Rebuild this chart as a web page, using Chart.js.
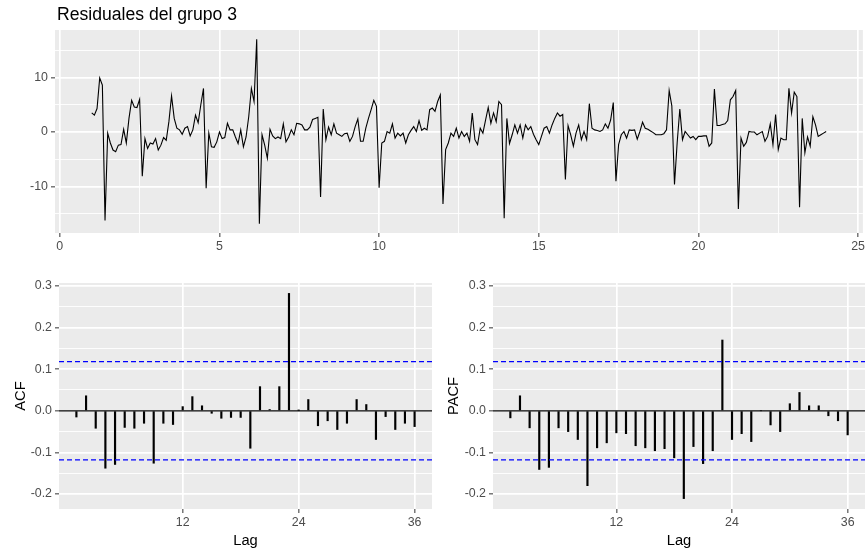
<!DOCTYPE html>
<html>
<head>
<meta charset="utf-8">
<script src="https://cdn.jsdelivr.net/npm/chart.js@4.4.0/dist/chart.umd.min.js"></script>
<style>
  body { margin: 0; background: #fff; }
  #lienzo { position: relative; width: 867px; height: 554px; }
  canvas { position: absolute; }
</style>
</head>
<body>
<div id="lienzo">
  <canvas id="serie" width="867" height="255" style="left:0px;top:0px"></canvas>
  <canvas id="acf" width="440" height="294" style="left:0px;top:260px"></canvas>
  <canvas id="pacf" width="434" height="294" style="left:433px;top:260px"></canvas>
</div>
<script>
// Datos (serie mensual, empieza en 1, frecuencia 12)
var titulo = "Residuales del grupo 3";
var inicio = 1;
var frecuencia = 12;
var residuales = [
  3.5, 3.1, 4.3, 9.9, 8.6, -16.2, -0.2, -2.0, -3.3, -3.6, -2.4, -2.3,
  0.5, -2.0, 2.5, 5.8, 4.6, 4.5, 6.0, -8.1, -1.2, -3.0, -2.0, -2.2,
  -1.2, -3.3, -2.4, -1.0, -1.5, 1.9, 6.6, 2.5, 0.7, 0.4, -0.4, 0.7,
  1.0, -0.7, 0.4, 3.1, 1.7, 5.0, 8.0, -10.3, -0.2, -2.7, -2.8, -1.8,
  0.0, -1.2, -1.0, 1.6, 0.4, 0.4, -0.9, -2.1, 0.4, -2.7, -0.9, 2.8,
  8.0, 5.6, 17.0, -16.8, -0.5, -2.4, -4.8, 0.5, -0.7, -1.2, -0.9, -1.2,
  1.5, -1.8, -0.9, 0.4, -0.5, 1.6, 1.5, 1.3, 0.4, 0.4, 0.9, 2.3,
  2.5, 2.7, -11.9, 4.2, -1.4, 0.9, -0.5, 1.5, -0.2, -0.5, -0.8, -0.3,
  -0.2, -1.7, -0.8, 1.0, 2.4, -1.7, -1.7, 0.7, 2.5, 4.1, 5.8, 4.7,
  -10.2, -2.0, -1.7, 0.1, -0.2, 1.5, -1.1, -0.2, -0.7, -0.2, -2.0, -0.5,
  0.3, 1.0, 0.1, 2.1, 0.3, 0.7, 0.4, 4.1, 4.4, 3.8, 5.6, 6.8,
  -13.2, -3.2, -2.0, -0.2, -0.8, 0.7, -1.1, 0.1, -0.8, -0.2, -1.7, 3.5,
  -1.4, -2.3, 0.7, -0.2, 2.2, 4.5, 1.6, 3.5, 1.9, 5.6, 5.0, -15.8,
  2.5, -2.1, -0.5, 1.3, -0.2, 1.3, -1.1, 1.3, 0.4, 1.0, -0.4, -1.4,
  -2.3, -0.8, 0.7, 1.0, -0.2, 1.3, 2.5, 3.5, 2.9, 3.2, -8.7, 1.2,
  -0.5, -2.6, -0.2, 1.3, -1.4, 0.1, -1.4, 5.2, 0.7, 0.4, 0.3, 0.1,
  0.4, 1.5, 0.7, 2.2, 5.4, -9.0, -2.3, -0.5, 0.1, -1.1, 0.4, 0.3,
  0.4, -1.3, 0.1, 1.8, 0.7, 0.5, 0.2, -0.1, -0.5, -0.5, -0.5, -0.3,
  0.4, 7.6, 4.8, -9.6, -2.0, 4.2, -1.4, 0.1, -0.5, -1.1, -0.8, -1.4,
  -0.8, -0.8, -0.7, -0.7, -2.6, -2.0, 7.9, 1.2, 1.2, 1.4, 1.5, 2.1,
  5.9, 6.5, 7.6, -14.1, -1.1, -2.6, -1.9, 0.1, 0.0, 0.0, -0.5, -0.2,
  0.1, -1.7, -0.8, 1.5, -2.3, 3.2, -3.2, -1.1, -1.4, -1.4, 8.0, 3.5,
  7.3, 6.5, -13.8, 2.5, -3.8, -0.9, -2.6, 2.8, 1.3, -0.8, -0.5, -0.2,
  0.1
];

var lags = [1, 2, 3, 4, 5, 6, 7, 8, 9, 10, 11, 12, 13, 14, 15, 16, 17, 18,
            19, 20, 21, 22, 23, 24, 25, 26, 27, 28, 29, 30, 31, 32, 33, 34, 35, 36];
var acfValores = [-0.015, 0.036, -0.042, -0.138, -0.129, -0.040, -0.042, -0.030, -0.126,
                  -0.030, -0.033, 0.010, 0.034, 0.012, -0.006, -0.018, -0.016, -0.016,
                  -0.090, 0.058, 0.003, 0.058, 0.282, 0.001, 0.027, -0.036, -0.024,
                  -0.045, -0.030, 0.027, 0.015, -0.069, -0.014, -0.045, -0.030, -0.038];
var pacfValores = [-0.017, 0.036, -0.041, -0.141, -0.136, -0.041, -0.050, -0.069, -0.180,
                   -0.089, -0.077, -0.053, -0.055, -0.084, -0.089, -0.096, -0.091, -0.113,
                   -0.211, -0.086, -0.127, -0.096, 0.170, -0.069, -0.055, -0.074, 0.000,
                   -0.034, -0.050, 0.017, 0.044, 0.012, 0.012, -0.012, -0.024, -0.058];
var limiteConfianza = 0.118;

var ticksSerieX = [0, 2.5, 5, 7.5, 10, 12.5, 15, 17.5, 20, 22.5, 25];
var ticksSerieY = [-15, -10, -5, 0, 5, 10, 15];
var ticksLagX = [12, 24, 36];
var ticksCorrY = [-0.2, -0.15, -0.1, -0.05, 0, 0.05, 0.1, 0.15, 0.2, 0.25, 0.3];

var fuente = "'Liberation Sans', Arial, sans-serif";
var grisTexto = '#4D4D4D';

// fondo gris del panel, como ggplot
var fondoPanel = {
  id: 'fondoPanel',
  beforeDraw: function (chart) {
    var a = chart.chartArea, ctx = chart.ctx;
    ctx.save();
    ctx.fillStyle = '#EBEBEB';
    ctx.fillRect(a.left, a.top, a.right - a.left, a.bottom - a.top);
    ctx.restore();
  }
};

var tituloSerie = {
  id: 'tituloSerie',
  afterDraw: function (chart) {
    var ctx = chart.ctx;
    ctx.save();
    ctx.font = "17.6px " + fuente;
    ctx.fillStyle = '#000';
    ctx.textBaseline = 'alphabetic';
    ctx.fillText(titulo, 57, 20);
    ctx.restore();
  }
};

function esMayorSerieX(v) { return Math.abs(v % 5) < 1e-9; }
function esMayorSerieY(v) { return Math.abs(v % 10) < 1e-9; }
function esMayorCorr(v) { return Math.abs(v * 10 - Math.round(v * 10)) < 1e-6; }

// eje al estilo ggplot: rejilla blanca, menores mas finas, sin linea de eje
function eje(min, max, valores, esMayor, formato, tamFijo, horizontal, tituloEje) {
  var cfg = {
    type: 'linear',
    min: min,
    max: max,
    offset: false,
    afterBuildTicks: function (scale) {
      scale.ticks = valores.map(function (v) { return { value: v }; });
    },
    afterFit: function (scale) {
      if (horizontal) scale.height = tamFijo; else scale.width = tamFijo;
    },
    border: { display: false },
    grid: {
      offset: false,
      drawTicks: true,
      tickLength: 4,
      tickWidth: 1,
      color: '#FFFFFF',
      lineWidth: function (c) { return c.tick && esMayor(c.tick.value) ? 1.7 : 0.9; },
      tickColor: function (c) { return c.tick && esMayor(c.tick.value) ? '#333333' : 'rgba(0,0,0,0)'; }
    },
    ticks: {
      autoSkip: false,
      maxRotation: 0,
      color: grisTexto,
      padding: horizontal ? 2 : 3,
      font: { family: fuente, size: 12.4 },
      callback: function (v) { return esMayor(v) ? formato(v) : ''; }
    }
  };
  if (tituloEje) {
    cfg.title = {
      display: true,
      text: tituloEje,
      color: '#000',
      font: { family: fuente, size: 14.7 },
      padding: horizontal ? { top: 0, bottom: 4 } : { top: 12, bottom: 0 }
    };
  }
  return cfg;
}

// serie temporal
var puntosSerie = residuales.map(function (v, i) {
  return { x: inicio + i / frecuencia, y: v };
});

new Chart(document.getElementById('serie'), {
  type: 'line',
  data: {
    datasets: [{
      data: puntosSerie,
      borderColor: '#000000',
      borderWidth: 1.1,
      pointRadius: 0,
      tension: 0
    }]
  },
  options: {
    responsive: false,
    animation: false,
    layout: { padding: { top: 30, right: 1, left: 0, bottom: 0 }, autoPadding: false },
    plugins: { legend: { display: false }, tooltip: { enabled: false } },
    scales: {
      x: eje(-0.15, 25.15, ticksSerieX, esMayorSerieX, function (v) { return String(v); }, 22, true),
      y: eje(-18.5, 18.7, ticksSerieY, esMayorSerieY, function (v) { return String(v); }, 55, false)
    }
  },
  plugins: [fondoPanel, tituloSerie]
});

// correlogramas
function correlograma(id, valores, etiqueta, anchoY, margenDer) {
  var barras = lags.map(function (l, i) { return { x: l, y: valores[i] }; });
  var xmin = -0.8, xmax = 37.8;
  function linea(y, color, guiones, ancho) {
    return {
      type: 'line',
      data: [{ x: xmin, y: y }, { x: xmax, y: y }],
      borderColor: color,
      borderWidth: ancho,
      borderDash: guiones,
      pointRadius: 0,
      order: 1
    };
  }
  new Chart(document.getElementById(id), {
    type: 'bar',
    data: {
      datasets: [
        { type: 'bar', data: barras, backgroundColor: '#000000', barThickness: 1.5, order: 2 },
        linea(0, '#000000', [], 1.2),
        linea(limiteConfianza, '#0000FF', [5, 3], 1.3),
        linea(-limiteConfianza, '#0000FF', [5, 3], 1.3)
      ]
    },
    options: {
      responsive: false,
      animation: false,
      layout: { padding: { top: 23, right: margenDer, left: 0, bottom: 0 }, autoPadding: false },
      plugins: { legend: { display: false }, tooltip: { enabled: false } },
      scales: {
        x: eje(xmin, xmax, ticksLagX, function () { return true; }, function (v) { return String(v); }, 45, true, 'Lag'),
        y: eje(-0.236, 0.307, ticksCorrY, esMayorCorr, function (v) { return v.toFixed(1); }, anchoY, false, etiqueta)
      }
    },
    plugins: [fondoPanel]
  });
}

correlograma('acf', acfValores, 'ACF', 59, 8);
correlograma('pacf', pacfValores, 'PACF', 60, 2);
</script>
</body>
</html>
